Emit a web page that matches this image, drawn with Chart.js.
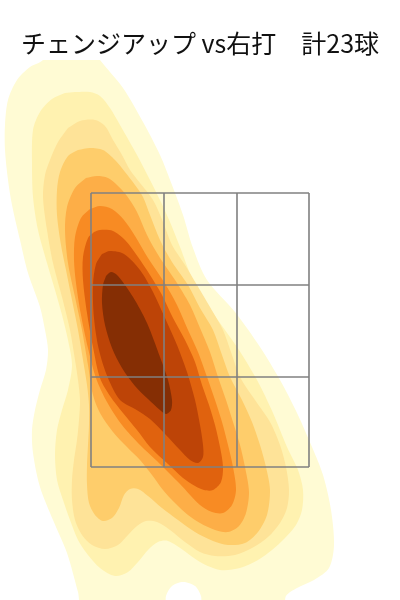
<!DOCTYPE html>
<html>
<head>
<meta charset="utf-8">
<script src="https://cdn.jsdelivr.net/npm/chart.js@4.4.1/dist/chart.umd.min.js"></script>
<style>
   html, body { margin: 0; padding: 0; background: #fff; }
   #wrap { width: 400px; height: 600px; }
</style>
</head>
<body>
<div id="wrap"><canvas id="chart"></canvas></div>
<script>
// title
const titleText = "チェンジアップ vs右打　計23球";

// strike zone edges (3x3 grid)
const zoneX = [-10.9, -3.6, 3.7, 10.9];
const zoneY = [13.3, 22.3, 31.5, 40.7];

// density contour outlines, outermost (level1) to innermost (level9), [x, y]
const level1 = [[-15, 55.5], [-11, 55.5], [-10, 54], [-7.7, 51.2], [-5.7, 47.8], [-4, 44.5], [-2.8, 41.5], [-1.7, 38.5], [-0.7, 35.2], [0.7, 32], [3.5, 28.8], [6, 25.3], [8, 22], [9.7, 18.7], [11.2, 15.3], [12.3, 12.5], [13.1, 9], [13.4, 5.5], [12.9, 3.2], [11.4, 2], [9.7, 1.2], [8.6, 0.4], [8.3, -1], [0.3, -1], [0.1, 0.4], [-0.5, 1.4], [-1.7, 1.8], [-2.8, 1.4], [-3.4, 0.4], [-3.6, -1], [-11.7, -1], [-12.2, 0.8], [-13.3, 4.7], [-14.7, 8], [-16, 11.3], [-16.7, 14.7], [-16.8, 17], [-16.5, 19], [-16, 21], [-15.4, 23], [-15.2, 25], [-15.5, 27], [-16, 29.3], [-17.2, 32.7], [-18, 36], [-18.8, 39.5], [-19.2, 42], [-19.5, 45], [-19.5, 47.5], [-19.2, 50], [-18.3, 52], [-17, 53.3], [-15.7, 54]];
const level2 = [[-13.5, 50.7], [-12.5, 50.8], [-11, 50.8], [-10, 50.4], [-9, 49.2], [-8, 47.5], [-6.3, 44.5], [-5, 42], [-4, 40], [-3, 37.8], [-2, 35.3], [-0.7, 32], [1.3, 28.7], [3.7, 25.3], [5.7, 22], [7.3, 18.7], [8.7, 15.3], [9.8, 13], [10.3, 11], [10.2, 9], [9.6, 7.5], [8.5, 6.2], [7.2, 5], [5.8, 4], [4, 3.2], [2, 3], [0, 3.8], [-1.7, 5], [-3.2, 5.9], [-4.2, 5.8], [-5.2, 5], [-6.2, 3.8], [-7.2, 2.8], [-8.5, 2.4], [-10, 3.2], [-11.2, 4.5], [-12.2, 6], [-13, 8], [-13.7, 10], [-14.3, 12], [-14.5, 14.5], [-14.3, 17], [-13.8, 19], [-13.2, 21], [-12.8, 23.5], [-13.2, 26], [-13.8, 28.5], [-14.5, 31], [-15.3, 33.7], [-16.2, 37], [-16.7, 40.3], [-16.8, 43.7], [-16.7, 47], [-16, 48.8], [-14.8, 50.1]];
const level3 = [[-13.2, 47.2], [-12, 47.9], [-10.5, 48], [-9.5, 47.4], [-8.7, 46], [-7.8, 44.5], [-7, 43], [-6, 41.7], [-4.7, 40], [-3.7, 37.8], [-2.8, 35.5], [-1.5, 33.5], [-0.3, 31.5], [1, 29.3], [2.3, 27], [3.2, 24.5], [4, 22.3], [5.5, 20], [7, 17.8], [8, 15.5], [8.6, 13.3], [8.9, 11], [8.7, 9.2], [8, 7.7], [6.8, 6.3], [5.2, 5.2], [3.5, 4.5], [1.5, 4.4], [0, 4.8], [-1.5, 5.8], [-3, 7], [-4.3, 7.8], [-5.4, 7.9], [-6.3, 7.4], [-7.2, 6.5], [-8.2, 5.5], [-9.5, 5.1], [-10.8, 5.5], [-11.8, 6.5], [-12.5, 8], [-12.8, 10], [-12.8, 12], [-12.6, 14], [-12.3, 16], [-12.1, 18], [-12, 20], [-12.2, 22], [-12.5, 24], [-13, 27], [-13.8, 30.3], [-14.7, 33.7], [-15.3, 37], [-15.7, 40.3], [-15.5, 42.5], [-15, 44], [-14.2, 45.8]];
const level4 = [[-12.2, 45], [-11, 45.2], [-9.7, 45], [-8.5, 44], [-7.5, 42.8], [-6.5, 41.5], [-5.7, 40.3], [-5, 38.5], [-4, 36], [-2.8, 33.8], [-1.2, 31.5], [0, 29.2], [1.3, 27], [2.2, 24.5], [3, 22.3], [4.2, 20], [5.2, 17.8], [6, 15.5], [6.6, 13.3], [7, 11], [6.7, 8.5], [5.8, 6.8], [4.5, 5.7], [2.8, 5.5], [1.3, 5.9], [-0.5, 6.8], [-2.2, 8], [-3.8, 9.2], [-5.2, 10.4], [-6.2, 11.1], [-7, 11.1], [-7.6, 10.5], [-8.1, 9.2], [-8.8, 8.2], [-9.7, 7.9], [-10.5, 8.5], [-11.1, 9.7], [-11.3, 11.5], [-11.3, 13.5], [-11.2, 15.5], [-11.1, 17.5], [-11.1, 19.5], [-11.3, 21.5], [-11.7, 24], [-12.2, 27], [-12.8, 30], [-13.4, 33], [-13.9, 35.5], [-14.3, 38.5], [-14.3, 41], [-14, 42.8], [-13.2, 44.4]];
const level5 = [[-11.4, 42.2], [-10.3, 42.4], [-9.2, 42.2], [-8.2, 41.4], [-7.3, 40.4], [-6.3, 38.8], [-5.3, 36.5], [-4, 34.2], [-2.5, 32], [-1, 29.5], [0, 27.2], [1, 24.8], [1.8, 22.3], [2.6, 20], [3.3, 17.8], [4, 15.5], [4.5, 13.3], [4.9, 10.8], [4.6, 8.7], [3.9, 7.4], [2.8, 6.8], [1.5, 7], [0, 7.7], [-1.2, 8.5], [-2.5, 9.7], [-3.7, 11], [-4.8, 12.5], [-6, 14], [-7.3, 15.3], [-8.7, 16.8], [-10, 18.7], [-10.7, 20.5], [-11.2, 23.5], [-11.8, 27], [-12.5, 30.3], [-13.2, 33.7], [-13.5, 37], [-13.3, 39.3], [-12.5, 41.2]];
const level6 = [[-11, 39.1], [-10, 39.4], [-8.8, 39.1], [-7.6, 38], [-6.5, 36.4], [-5.2, 34.2], [-3.6, 31.8], [-2.3, 29.5], [-1.2, 27], [-0.2, 24.8], [0.7, 22.3], [1.5, 20], [2.2, 17.8], [2.8, 15.5], [3.3, 13.3], [3.6, 11], [3.2, 9.5], [2.3, 8.7], [1.2, 8.8], [0, 9.5], [-2, 11.6], [-4.3, 13.9], [-6, 15.5], [-7.8, 17.5], [-9.3, 19.8], [-10.4, 22.2], [-11.2, 25.2], [-11.9, 28.5], [-12.4, 31.7], [-12.6, 34], [-12.5, 36.3], [-11.9, 38.2]];
const level7 = [[-10.6, 36.8], [-10, 37], [-8.7, 36.9], [-7.5, 36], [-6.2, 34.3], [-5, 32.5], [-3.8, 30.5], [-2.7, 28.2], [-1.5, 26], [-0.5, 23.8], [0.2, 21.5], [0.9, 19.5], [1.5, 17.5], [2, 15.3], [2.3, 13.3], [2.1, 11.8], [1.3, 11], [0.4, 11], [-0.5, 11.4], [-1.7, 12.2], [-3.2, 13.6], [-5, 15.3], [-6.3, 17], [-7.7, 18.7], [-9, 20.4], [-10, 22.2], [-10.7, 25.3], [-11.3, 28.7], [-11.7, 32], [-11.7, 34.3], [-11.2, 36.2]];
const level8 = [[-9.8, 34.6], [-9, 34.9], [-7.6, 34.6], [-6, 33], [-4.7, 30.8], [-3.5, 28.2], [-2.3, 25.5], [-1.3, 22.8], [-0.5, 20], [0, 17.5], [0.3, 15.5], [0.3, 14.3], [-0.2, 13.7], [-1, 14], [-2, 15], [-3.5, 16.6], [-5, 18.1], [-6.5, 19.1], [-8, 20], [-9.2, 22.2], [-10.1, 25], [-10.6, 28.2], [-10.7, 31.5], [-10.4, 33.6]];
const level9 = [[-9.4, 32.4], [-8.9, 32.8], [-8.2, 32.4], [-6.7, 30.3], [-5.3, 27.7], [-4, 24.3], [-3.2, 22], [-2.8, 20], [-2.9, 19], [-3.4, 18.6], [-4, 19], [-5.2, 20.1], [-6.5, 21.4], [-7.8, 23.2], [-8.8, 25.2], [-9.5, 27.5], [-9.8, 29.7], [-9.7, 31.5]];

const levels = [level1, level2, level3, level4, level5, level6, level7, level8, level9];
const levelColors = ["#fffbd4", "#fff2b0", "#fee398", "#fecd6b", "#fdae47", "#f88b23", "#e0620e", "#bd4407", "#852e04"];

function toPoints(poly) {
   const pts = poly.map(([x, y]) => ({ x, y }));
   pts.push({ x: poly[0][0], y: poly[0][1] });
   return pts;
}

const datasets = [];

// contour fills, outer ones drawn first
levels.forEach((poly, i) => {
   datasets.push({
      data: toPoints(poly),
      showLine: true,
      fill: "shape",
      backgroundColor: levelColors[i],
      borderColor: levelColors[i],
      borderWidth: 0,
      pointRadius: 0,
      tension: 0.3,
      order: levels.length - i + 1,
   });
});

// strike zone grid on top
const gridLines = [];
zoneX.forEach((x) => gridLines.push([{ x, y: zoneY[0] }, { x, y: zoneY[3] }]));
zoneY.forEach((y) => gridLines.push([{ x: zoneX[0], y }, { x: zoneX[3], y }]));
gridLines.forEach((seg) => {
   datasets.push({
      data: seg,
      showLine: true,
      fill: false,
      borderColor: "#808080",
      borderWidth: 1.6,
      pointRadius: 0,
      tension: 0,
      order: 0,
   });
});

const ctx = document.getElementById("chart").getContext("2d");
const chart = new Chart(ctx, {
   type: "scatter",
   data: { datasets },
   options: {
      responsive: true,
      maintainAspectRatio: false,
      animation: false,
      layout: { padding: 0 },
      elements: { line: { capBezierPoints: false } },
      scales: {
         x: { type: "linear", min: -20, max: 20, display: false },
         y: { type: "linear", min: 0, max: 54, display: false },
      },
      plugins: {
         legend: { display: false },
         tooltip: { enabled: false },
         title: {
            display: true,
            text: titleText,
            color: "#111",
            font: { family: "'Noto Sans CJK JP', sans-serif", size: 25, weight: "normal", lineHeight: 1.2 },
            padding: { top: 28, bottom: 2 },
         },
      },
   },
});
</script>
</body>
</html>
